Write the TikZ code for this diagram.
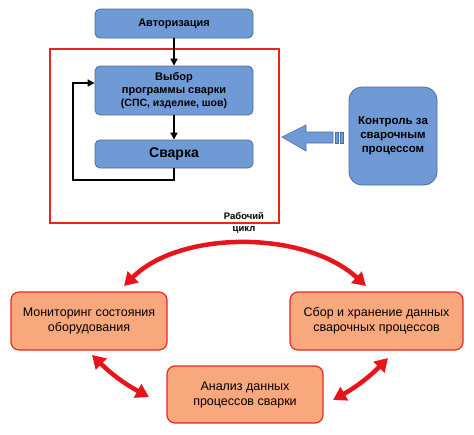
\documentclass[tikz,border=0pt]{standalone}
\usepackage{fontspec}
\setmainfont{Liberation Sans}
\usetikzlibrary{arrows.meta,positioning}
\definecolor{bfill}{HTML}{6F9AD5}
\definecolor{bdraw}{HTML}{4A6DA0}
\definecolor{ofill}{HTML}{F9A87E}
\definecolor{odraw}{HTML}{E8261C}
\definecolor{rarrow}{HTML}{E8141B}
\tikzset{
  bluebox/.style={draw=bdraw,fill=bfill,line width=0.8pt,rounded corners=5pt,align=center,font=\bfseries\fontsize{11}{13}\selectfont},
  orangebox/.style={draw=odraw,fill=ofill,line width=1.2pt,rounded corners=8pt,align=center,font=\fontsize{12.5}{15}\selectfont},
  flowarrow/.style={line width=1.6pt,-{Triangle[length=7pt,width=7pt]}},
  redarrow/.style={draw=rarrow,line width=4.5pt,{Triangle[length=13pt,width=15pt]}-{Triangle[length=13pt,width=15pt]}},
}
\begin{document}
\begin{tikzpicture}[x=1pt,y=-1pt]
\useasboundingbox (0,0) rectangle (474,434);
% red frame
\draw[odraw,line width=1.6pt] (50,49) rectangle (279,223);
\node[font=\bfseries\fontsize{9.5}{12}\selectfont,align=center] (lbl) at (244,223) {Рабочий\\цикл};
% blue boxes
\node[bluebox,minimum width=158pt,minimum height=29pt] (auth) at (174,23.5) {Авторизация};
\node[bluebox,minimum width=158pt,minimum height=49pt] (vybor) at (174,90.5) {Выбор\\программы сварки\\{\fontsize{10.5}{13}\selectfont (СПС, изделие, шов)}};
\node[bluebox,minimum width=158pt,minimum height=28pt,font=\bfseries\fontsize{14}{16}\selectfont] (svarka) at (174,154) {Сварка};
\node[bluebox,rounded corners=13pt,minimum width=88pt,minimum height=98pt,font=\bfseries\fontsize{11.5}{14}\selectfont] (kontrol) at (393,136) {Контроль за\\сварочным\\процессом};
% flow arrows
\draw[flowarrow] (auth.south) -- (vybor.north);
\draw[flowarrow] (vybor.south) -- (svarka.south |- svarka.north);
\coordinate (loopA) at (174,180);
\coordinate (loopB) at (73,180);
\draw[flowarrow] (svarka.south) -- (loopA) -- (loopB) |- ([yshift=7.5pt]vybor.west);
% block arrow
\filldraw[fill=bfill,draw=bdraw,line width=0.6pt] (282,137) -- (306,125) -- (306,132) -- (333,132) -- (333,143) -- (306,143) -- (306,151) -- cycle;
\filldraw[fill=bfill,draw=bdraw,line width=0.5pt] (335,132) rectangle (338,143);
\filldraw[fill=bfill,draw=bdraw,line width=0.5pt] (340,132) rectangle (343,143);
% orange boxes
\node[orangebox,minimum width=156pt,minimum height=58pt] (mon) at (89,321) {Мониторинг состояния\\оборудования};
\node[orangebox,minimum width=173pt,minimum height=58pt] (sbor) at (376.5,321) {Сбор и хранение данных\\сварочных процессов};
\node[orangebox,minimum width=156pt,minimum height=57pt] (anal) at (245,394.5) {Анализ данных\\процессов сварки};
% red arrows
\coordinate (t1) at (124,286);
\coordinate (t2) at (366,286);
\coordinate (l1) at (92,355);
\coordinate (l2) at (149,397);
\coordinate (r1) at (388,358);
\coordinate (r2) at (333,400);
\draw[redarrow] (t1) .. controls (180,230) and (305,230) .. (t2);
\draw[redarrow] (l1) to[bend right=8] (l2);
\draw[redarrow] (r1) to[bend left=8] (r2);
\end{tikzpicture}
\end{document}
